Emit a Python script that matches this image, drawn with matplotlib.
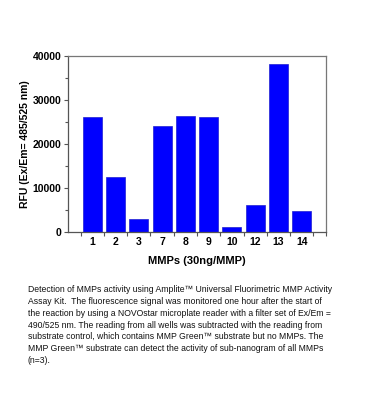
import matplotlib
matplotlib.use("Agg")
import matplotlib.pyplot as plt
import numpy as np

categories = ["1", "2", "3", "7", "8", "9", "10", "12", "13", "14"]
values = [26000, 12500, 3000, 24000, 26300, 26000, 1100, 6100, 38100, 4600]
yticks = [0, 10000, 20000, 30000, 40000]

caption_lines = [
    "Detection of MMPs activity using Amplite\u2122 Universal Fluorimetric MMP Activity",
    "Assay Kit.  The fluorescence signal was monitored one hour after the start of",
    "the reaction by using a NOVOstar microplate reader with a filter set of Ex/Em =",
    "490/525 nm. The reading from all wells was subtracted with the reading from",
    "substrate control, which contains MMP Green\u2122 substrate but no MMPs. The",
    "MMP Green\u2122 substrate can detect the activity of sub-nanogram of all MMPs",
    "(n=3).",
]

plt.rcParams['font.family'] = ['Liberation Sans', 'DejaVu Sans']

fig = plt.figure(figsize=(3.7, 4.2), dpi=100)
ax = fig.add_axes([0.184, 0.4483, 0.697, 0.4193])

x = np.arange(len(categories))
ax.bar(x, values, width=0.82, color="#0000FF", edgecolor="#2020d0", linewidth=0.5)

ax.set_xlim(-1.04, len(categories) - 1 + 1.04)
ax.set_ylim(0, 40000)
ax.set_yticks(yticks)
ax.set_yticks(np.arange(5000, 40000, 10000), minor=True)
ax.set_yticklabels([str(v) for v in yticks], fontsize=7.5, fontweight="bold")
ax.set_xticks(x)
ax.set_xticklabels(categories, fontsize=7.5, fontweight="bold")
ax.set_xticks(list(np.arange(-0.5, len(categories), 1.0)) + [len(categories) - 1 + 1.04], minor=True)
ax.tick_params(axis="x", which="major", length=0, pad=4)
ax.tick_params(axis="x", which="minor", length=3, width=0.8, color="#555555", direction="out")
ax.tick_params(axis="y", which="major", length=3, width=0.8, color="#555555", pad=2)
ax.tick_params(axis="y", which="minor", length=2, width=0.8, color="#555555")

for s in ax.spines.values():
    s.set_color("#777777")
    s.set_linewidth(0.9)
ax.spines["left"].set_color("#555555")
ax.spines["bottom"].set_color("#555555")

ax.set_ylabel("RFU (Ex/Em= 485/525 nm)", fontsize=7.5, fontweight="bold", labelpad=2)
ax.set_xlabel("MMPs (30ng/MMP)", fontsize=8, fontweight="bold", labelpad=6)

y0 = 1 - 290 / 420
for i, line in enumerate(caption_lines):
    fig.text(28 / 370, y0 - i * 11.7 / 420, line, fontsize=6.25, color="#111111",
             va="center", ha="left")

fig.savefig("out.png", dpi=100, facecolor="white")
